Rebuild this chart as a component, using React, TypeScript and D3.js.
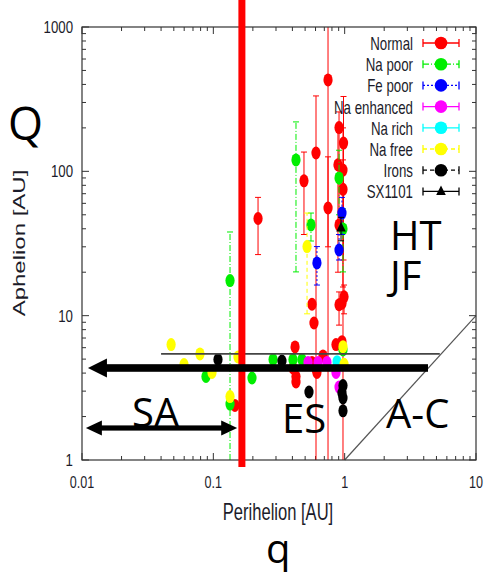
import React from 'react';
import * as d3 from 'd3';

const W = 487, H = 572;
const X0 = 82, X1 = 476, Y0 = 460, Y1 = 27;

const seriesNames = ['Normal', 'Na poor', 'Fe poor', 'Na enhanced', 'Na rich', 'Na free', 'Irons', 'SX1101'];
const seriesColors = ['#ff0000', '#00ee00', '#0000ff', '#ff00ff', '#00ffff', '#ffff00', '#000000', '#000000'];
const seriesDash = ['', '6,2,1,2', '2,2', '', '', '4,3', '4,3', ''];

const xTickValues = [0.01, 0.1, 1, 10];
const xTickLabels = ['0.01', '0.1', '1', '10'];
const yTickValues = [1, 10, 100, 1000];
const yTickLabels = ['1', '10', '100', '1000'];

// Normal
const normalPeri = [0.219, 0.490, 0.605, 0.747, 0.747, 0.906, 0.980, 0.889, 0.971, 0.971, 0.906, 0.564, 0.584, 0.906, 0.989, 0.954, 0.419, 0.859, 0.954, 0.684, 0.564, 0.615, 0.404, 0.426, 0.426, 0.146, 0.605];
const normalAph = [47.1, 86, 134, 430, 55.7, 201, 157, 111, 102, 75, 42.5, 12.0, 8.9, 11.9, 13.5, 12.2, 6.07, 6.31, 6.6, 5.26, 4.74, 4.04, 4.34, 3.79, 3.47, 2.39, 4.3];
const normalLo = [26.5, 36.5, 1, 1, 30, 40, 24.3, 20, 1, 15.8, null, null, null, 8.6, 10.3, null, null, null, null, null, null, null, null, null, null, null, null];
const normalHi = [66, 136, 333, 1000, 126, 258, 330, 200, 200, 120, null, null, null, 14.6, 16.3, null, null, null, null, null, null, null, null, null, null, null, null];

// Na poor
const naPoorPeri = [0.134, 0.426, 0.554, 0.906, 0.971, 0.0879, 0.134, 0.197, 0.285, 0.404, 0.473, 0.971];
const naPoorAph = [17.5, 120, 42.5, 90, 39.9, 3.79, 2.44, 3.70, 4.97, 4.97, 4.97, 5.78];
const naPoorLo = [1, 20.1, 32.9, 50, 20.1, null, null, null, null, null, null, null];
const naPoorHi = [38, 220, 51.4, 140, 55, null, null, null, null, null, null, null];

// Fe poor
const fePoorPeri = [0.954, 0.906, 0.615];
const fePoorAph = [51.4, 28.5, 23.2];
const fePoorLo = [36.5, 24.3, 16.3];
const fePoorHi = [66, 36.5, 30.1];

// Na enhanced
const naEnhPeri = [0.526, 0.627, 0.733, 0.859, 0.906];
const naEnhAph = [4.74, 4.74, 4.74, 4.04, 3.2];

// Na rich
const naRichPeri = [0.875];
const naRichAph = [4.8];

// Na free
const naFreePeri = [0.0477, 0.0598, 0.0791, 0.0977, 0.134, 0.154, 0.517, 0.971, 0.989];
const naFreeAph = [6.31, 4.59, 5.43, 4.04, 2.75, 5.17, 30.1, 6.1, 4.6];
const naFreeLo = [null, null, null, null, null, null, 10.3, null, null];
const naFreeHi = [null, null, null, null, null, null, 51.4, null, null];

// Irons
const ironsPeri = [0.1085, 0.333, 0.535, 0.971, 0.954, 0.971, 0.971];
const ironsAph = [4.97, 4.85, 2.96, 3.28, 2.91, 2.69, 2.19];

// SX1101
const sxPeri = [0.938];
const sxAph = [40.5];
const sxLo = [33];
const sxHi = [48];

// annotations (data units)
const jupiterLineQ = 5.43;
const jupiterLineFrom = 0.04;
const jupiterLineTo = 5.3;
const bigArrowQ = 4.34;
const bigArrowFrom = 0.0111;
const bigArrowTo = 4.31;
const saArrowQ = 1.666;
const saArrowFrom = 0.0107;
const saArrowTo = 0.152;
const limitQ = 0.165;

type Pt = { q: number; Q: number; lo: number | null; hi: number | null };
function mk(p: number[], a: number[], lo?: (number | null)[], hi?: (number | null)[]): Pt[] {
  return p.map((q, i) => ({ q, Q: a[i], lo: lo ? lo[i] : null, hi: hi ? hi[i] : null }));
}

const seriesData: Pt[][] = [
  mk(normalPeri, normalAph, normalLo, normalHi),
  mk(naPoorPeri, naPoorAph, naPoorLo, naPoorHi),
  mk(fePoorPeri, fePoorAph, fePoorLo, fePoorHi),
  mk(naEnhPeri, naEnhAph),
  mk(naRichPeri, naRichAph),
  mk(naFreePeri, naFreeAph, naFreeLo, naFreeHi),
  mk(ironsPeri, ironsAph),
  mk(sxPeri, sxAph, sxLo, sxHi),
];

const x = d3.scaleLog().domain([0.01, 10]).range([X0, X1]);
const y = d3.scaleLog().domain([1, 1000]).range([Y0, Y1]);

const GP_FONT = '"Liberation Sans", Arial, sans-serif';
const BIG_FONT = '"Open Sans", "Noto Sans", sans-serif';
const TXT = '#1c1c2a';

function NText(props: { x: number; y: number; anchor?: string; size: number; sx?: number; children: React.ReactNode; rot?: boolean }) {
  const { x: tx, y: ty, anchor = 'start', size, sx = 0.72, children, rot } = props;
  const tr = rot ? `translate(${tx},${ty}) rotate(-90) scale(1,${sx})` : `translate(${tx},${ty}) scale(${sx},1)`;
  return (
    <g transform={tr}>
      <text x={0} y={0} textAnchor={anchor as any} fontFamily={GP_FONT} fontSize={size} fill={TXT}>{children}</text>
    </g>
  );
}

function Marker({ cx, cy, color, tri, rx = 4.6, ry = 6.5 }: { cx: number; cy: number; color: string; tri?: boolean; rx?: number; ry?: number }) {
  if (tri) {
    const s = 6;
    return <path d={`M${cx},${cy - s} L${cx + s * 0.8},${cy + s * 0.6} L${cx - s * 0.8},${cy + s * 0.6} Z`} fill={color} />;
  }
  return <ellipse cx={cx} cy={cy} rx={rx} ry={ry} fill={color} />;
}

export default function App() {
  const minorX: number[] = [];
  const minorY: number[] = [];
  for (let e = -2; e < 1; e++) for (let k = 2; k <= 9; k++) minorX.push(k * Math.pow(10, e));
  for (let e = 0; e < 3; e++) for (let k = 2; k <= 9; k++) minorY.push(k * Math.pow(10, e));
  const axisColor = '#333';
  const MAJ = 7, MIN = 4;

  const arrowHead = (tipX: number, cy: number, dir: number, len: number, half: number) =>
    `M${tipX},${cy} L${tipX + dir * len},${cy - half} L${tipX + dir * len},${cy + half} Z`;

  const bigY = y(bigArrowQ);
  const saY = y(saArrowQ);

  return (
    <svg width={W} height={H} style={{ position: 'absolute', left: 0, top: 0, background: '#fff' }}>
      <rect x={0} y={0} width={W} height={H} fill="#fff" />

      {/* ticks */}
      <g stroke={axisColor} strokeWidth={1}>
        {xTickValues.map((v, i) => (
          <g key={'xt' + i}>
            <line x1={x(v)} x2={x(v)} y1={Y0} y2={Y0 - MAJ} />
            <line x1={x(v)} x2={x(v)} y1={Y1} y2={Y1 + MAJ} />
          </g>
        ))}
        {minorX.map((v, i) => (
          <g key={'xm' + i}>
            <line x1={x(v)} x2={x(v)} y1={Y0} y2={Y0 - MIN} />
            <line x1={x(v)} x2={x(v)} y1={Y1} y2={Y1 + MIN} />
          </g>
        ))}
        {yTickValues.map((v, i) => (
          <g key={'yt' + i}>
            <line x1={X0} x2={X0 + MAJ} y1={y(v)} y2={y(v)} />
            <line x1={X1} x2={X1 - MAJ} y1={y(v)} y2={y(v)} />
          </g>
        ))}
        {minorY.map((v, i) => (
          <g key={'ym' + i}>
            <line x1={X0} x2={X0 + MIN} y1={y(v)} y2={y(v)} />
            <line x1={X1} x2={X1 - MIN} y1={y(v)} y2={y(v)} />
          </g>
        ))}
      </g>

      {/* diagonal Q = q */}
      <line x1={x(1)} y1={y(1)} x2={x(10)} y2={y(10)} stroke="#555" strokeWidth={1.2} />

      {/* data */}
      {seriesData.map((pts, si) => (
        <g key={'s' + si}>
          {pts.map((p, i) => {
            const px = x(p.q);
            const dash = seriesDash[si] || undefined;
            const col = seriesColors[si];
            return (
              <g key={i}>
                {p.lo != null && p.hi != null && (
                  <g stroke={col} strokeWidth={1}>
                    <line x1={px} x2={px} y1={y(p.lo)} y2={y(p.hi)} strokeDasharray={dash} />
                    {p.lo > 1 && <line x1={px - 3} x2={px + 3} y1={y(p.lo)} y2={y(p.lo)} />}
                    {p.hi < 1000 && <line x1={px - 3} x2={px + 3} y1={y(p.hi)} y2={y(p.hi)} />}
                  </g>
                )}
                <Marker cx={px} cy={y(p.Q)} color={col} tri={si === 7} />
              </g>
            );
          })}
        </g>
      ))}

      {/* frame */}
      <rect x={X0} y={Y1} width={X1 - X0} height={Y0 - Y1} fill="none" stroke={axisColor} strokeWidth={1.2} />

      {/* tick labels */}
      {xTickValues.map((v, i) => (
        <NText key={'xl' + i} x={x(v)} y={488} anchor="middle" size={17} sx={0.74}>{xTickLabels[i]}</NText>
      ))}
      {yTickValues.map((v, i) => (
        <NText key={'yl' + i} x={73} y={y(v) + 6} anchor="end" size={17} sx={0.78}>{yTickLabels[i]}</NText>
      ))}

      {/* axis titles */}
      <NText x={278} y={520} anchor="middle" size={23} sx={0.72}>Perihelion [AU]</NText>
      <NText x={25} y={243} anchor="middle" size={24} sx={0.72} rot>Aphelion [AU]</NText>

      {/* legend */}
      {seriesNames.map((n, i) => {
        const cy = 43 + i * 21.2;
        const col = seriesColors[i];
        const dash = seriesDash[i] || undefined;
        return (
          <g key={'lg' + i}>
            <NText x={413} y={cy + 7} anchor="end" size={19} sx={0.7}>{n}</NText>
            <g stroke={col} strokeWidth={1.3}>
              <line x1={423} x2={459} y1={cy} y2={cy} strokeDasharray={dash} />
              <line x1={423} x2={423} y1={cy - 4} y2={cy + 4} />
              <line x1={459} x2={459} y1={cy - 4} y2={cy + 4} />
            </g>
            {i === 7 ? (
              <Marker cx={441} cy={cy} color={col} tri />
            ) : (
              <circle cx={441} cy={cy} r={6.3} fill={col} />
            )}
          </g>
        );
      })}

      {/* annotations */}
      <line x1={x(jupiterLineFrom)} x2={x(jupiterLineTo)} y1={y(jupiterLineQ)} y2={y(jupiterLineQ)} stroke="#444" strokeWidth={1.8} />
      <rect x={x(limitQ) - 3.5} y={0} width={7} height={Y0 + 7} fill="#ff0000" />

      <rect x={x(bigArrowFrom) + 18} y={bigY - 3.8} width={x(bigArrowTo) - x(bigArrowFrom) - 18} height={7.6} fill="#000" />
      <path d={arrowHead(x(bigArrowFrom), bigY, 1, 19, 9.5)} fill="#000" />

      <rect x={x(saArrowFrom) + 14} y={saY - 2.6} width={x(saArrowTo) - x(saArrowFrom) - 28} height={5.2} fill="#000" />
      <path d={arrowHead(x(saArrowFrom), saY, 1, 16, 7.5)} fill="#000" />
      <path d={arrowHead(x(saArrowTo), saY, -1, 16, 7.5)} fill="#000" />

      <g fontFamily={BIG_FONT} fill="#000">
        <text x={8} y={140} fontSize={45}>Q</text>
        <text x={266} y={563} fontSize={40}>q</text>
        <text x={132} y={427} fontSize={40}>SA</text>
        <text x={282} y={433} fontSize={40}>ES</text>
        <text x={386} y={428} fontSize={40}>A-C</text>
        <text x={390} y={250} fontSize={40}>HT</text>
        <text x={390} y={290} fontSize={40}>JF</text>
      </g>
    </svg>
  );
}
